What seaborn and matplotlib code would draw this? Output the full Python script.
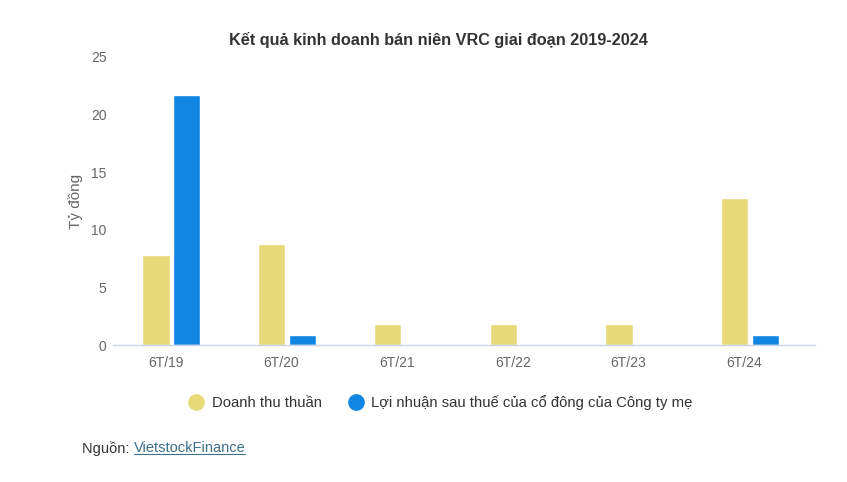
import pandas as pd
import numpy as np
import matplotlib
matplotlib.use("Agg")
import matplotlib.pyplot as plt
import seaborn as sns
from matplotlib.lines import Line2D

# data (ty dong)
periods = ["6T/19", "6T/20", "6T/21", "6T/22", "6T/23", "6T/24"]
doanh_thu = [7.8, 8.8, 1.8, 1.8, 1.8, 12.8]
loi_nhuan = [21.7, 0.9, 0.0, 0.0, 0.0, 0.9]
series_names = ["Doanh thu thuần", "Lợi nhuận sau thuế của cổ đông của Công ty mẹ"]
colors = ["#E8DA78", "#1186E3"]

df = pd.DataFrame({
    "Kỳ": periods * 2,
    "Giá trị": doanh_thu + loi_nhuan,
    "Chỉ tiêu": [series_names[0]] * len(periods) + [series_names[1]] * len(periods),
})

sns.set_style("white")
plt.rcParams["font.family"] = ["Liberation Sans", "DejaVu Sans"]

fig = plt.figure(figsize=(8.47, 4.82), dpi=100)
ax = fig.add_axes([0.134, 0.284, 0.828, 0.598])

sns.barplot(data=df, x="Kỳ", y="Giá trị", hue="Chỉ tiêu", palette=colors,
            width=0.53, gap=0.11, ax=ax, legend=False, saturation=1)

ax.set_ylim(0, 25)
ax.set_yticks([0, 5, 10, 15, 20, 25])
ax.set_xlim(-0.5, 5.56)
# category labels sit slightly left of the bar groups, like the original
ax.set_xticks(np.arange(len(periods)) - 0.05)
ax.set_xticklabels(periods)
ax.set_xlabel("")
ax.set_ylabel("Tỷ đồng", fontsize=11, color="#666666", labelpad=6)
ax.tick_params(axis="both", length=0, labelsize=10, colors="#666666")
ax.tick_params(axis="y", pad=5)
ax.tick_params(axis="x", pad=8)
for s in ["top", "right", "left"]:
    ax.spines[s].set_visible(False)
ax.spines["bottom"].set_color("#ccd6eb")
ax.spines["bottom"].set_linewidth(1)

fig.text(0.518, 0.917, "Kết quả kinh doanh bán niên VRC giai đoạn 2019-2024",
         ha="center", va="center", fontsize=11.7, fontweight="bold", color="#333333")

handles = [Line2D([0], [0], marker="o", linestyle="", markersize=11,
                  markerfacecolor=c, markeredgecolor=c) for c in colors]
fig.legend(handles, series_names, loc="center", bbox_to_anchor=(0.516, 0.165),
           ncol=2, frameon=False, fontsize=10.7, handletextpad=0.05, columnspacing=1.3,
           labelcolor="#333333")

t1 = fig.text(0.097, 0.07, "Nguồn: ", ha="left", va="center", fontsize=10.5, color="#333333")
fig.canvas.draw()
r = fig.canvas.get_renderer()
bb = t1.get_window_extent(renderer=r)
x2 = bb.x1 / fig.bbox.width
t2 = fig.text(x2, 0.07, "VietstockFinance", ha="left", va="center", fontsize=10.5, color="#3d6f8c")
bb2 = t2.get_window_extent(renderer=r)
y_line = (bb2.y0 + 1) / fig.bbox.height
fig.add_artist(Line2D([bb2.x0 / fig.bbox.width, bb2.x1 / fig.bbox.width], [y_line, y_line],
                      transform=fig.transFigure, color="#3d6f8c", linewidth=0.8))

fig.savefig("out.png", dpi=100)
